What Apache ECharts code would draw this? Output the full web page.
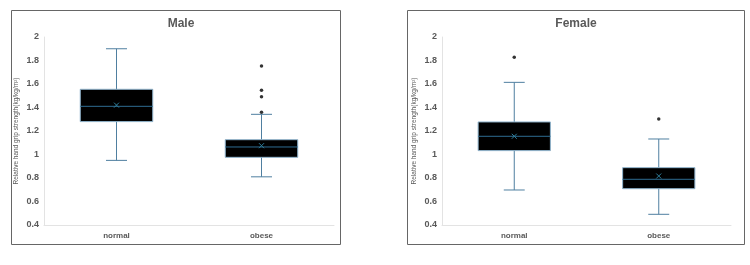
<!DOCTYPE html>
<html>
<head>
<meta charset="utf-8">
<script src="https://cdn.jsdelivr.net/npm/echarts@6/dist/echarts.min.js"></script>
<style>
  html, body { margin: 0; padding: 0; background: #fff; }
  #main { width: 750px; height: 265px; }
</style>
</head>
<body>
<div id="main"></div>
<script>
// categories and tick labels
const categories = ["normal", "obese"];
const yTicks = [0.4, 0.6, 0.8, 1, 1.2, 1.4, 1.6, 1.8, 2];

// box stats: [min, Q1, median, Q3, max, mean]
const maleNormal = [0.95, 1.28, 1.41, 1.555, 1.9, 1.42];
const maleObese = [0.81, 0.976, 1.064, 1.126, 1.342, 1.075];
const femaleNormal = [0.698, 1.033, 1.155, 1.277, 1.614, 1.155];
const femaleObese = [0.491, 0.709, 0.789, 0.888, 1.132, 0.817];

// outliers [categoryIndex, value]
const maleOutliers = [[1, 1.753], [1, 1.546], [1, 1.492], [1, 1.359]];
const femaleOutliers = [[0, 1.827], [1, 1.302]];

const textColor = "#595959";
const whiskerColor = "#4f7fa0";

function boxData(a, b) {
  return [[0].concat(a), [1].concat(b)];
}

function renderBox(params, api) {
  const x = api.value(0);
  const pMin = api.coord([x, api.value(1)]);
  const pQ1 = api.coord([x, api.value(2)]);
  const pMed = api.coord([x, api.value(3)]);
  const pQ3 = api.coord([x, api.value(4)]);
  const pMax = api.coord([x, api.value(5)]);
  const pMean = api.coord([x, api.value(6)]);
  const band = api.size([1, 0])[0];
  const bw = band * 0.5;
  const cw = band * 0.145;
  const cx = pMed[0];
  const lineStyle = { stroke: whiskerColor, lineWidth: 1 };
  const s = 2.5;
  return {
    type: "group",
    children: [
      { type: "line", shape: { x1: cx, y1: pMax[1], x2: cx, y2: pMin[1] }, style: lineStyle },
      { type: "line", shape: { x1: cx - cw / 2, y1: pMax[1], x2: cx + cw / 2, y2: pMax[1] }, style: lineStyle },
      { type: "line", shape: { x1: cx - cw / 2, y1: pMin[1], x2: cx + cw / 2, y2: pMin[1] }, style: lineStyle },
      { type: "rect", shape: { x: cx - bw / 2, y: pQ3[1], width: bw, height: pQ1[1] - pQ3[1] },
        style: { fill: "#000", stroke: "#8fb3cc", lineWidth: 1 } },
      { type: "line", shape: { x1: cx - bw / 2, y1: pMed[1], x2: cx + bw / 2, y2: pMed[1] },
        style: { stroke: "#2f6d92", lineWidth: 1 } },
      { type: "line", shape: { x1: cx - s, y1: pMean[1] - s, x2: cx + s, y2: pMean[1] + s },
        style: { stroke: "#2f7f9c", lineWidth: 1 } },
      { type: "line", shape: { x1: cx - s, y1: pMean[1] + s, x2: cx + s, y2: pMean[1] - s },
        style: { stroke: "#2f7f9c", lineWidth: 1 } }
    ]
  };
}

function yAxisCfg(gridIndex) {
  return {
    type: "value",
    gridIndex: gridIndex,
    min: 0.4,
    max: 2,
    interval: 0.2,
    name: "Relative hand grip strength(kg/kg/m\u00b2)",
    nameLocation: "middle",
    nameGap: 24,
    nameTextStyle: { fontSize: 6.5, color: textColor, fontFamily: "Liberation Sans" },
    axisLine: { show: true, lineStyle: { color: "#e3e3e3" } },
    axisTick: { show: false },
    splitLine: { show: false },
    axisLabel: { color: textColor, fontSize: 9, fontWeight: "bold", margin: 5, fontFamily: "Liberation Sans" }
  };
}

function xAxisCfg(gridIndex) {
  return {
    type: "category",
    gridIndex: gridIndex,
    data: categories,
    axisLine: { lineStyle: { color: "#e3e3e3" } },
    axisTick: { show: false },
    axisLabel: { color: textColor, fontSize: 8, fontWeight: "bold", margin: 7, fontFamily: "Liberation Sans" }
  };
}

const chart = echarts.init(document.getElementById("main"));
chart.setOption({
  animation: false,
  backgroundColor: "#fff",
  title: [
    { text: "Male", left: 176, top: 13, textAlign: "center",
      textStyle: { fontSize: 12, fontWeight: "bold", color: textColor, fontFamily: "Liberation Sans" } },
    { text: "Female", left: 571, top: 13, textAlign: "center",
      textStyle: { fontSize: 12, fontWeight: "bold", color: textColor, fontFamily: "Liberation Sans" } }
  ],
  graphic: [
    { type: "rect", shape: { x: 11.5, y: 10.5, width: 329, height: 234 },
      style: { fill: "none", stroke: "#666", lineWidth: 1 }, z: -1 },
    { type: "rect", shape: { x: 407.5, y: 10.5, width: 337, height: 234 },
      style: { fill: "none", stroke: "#666", lineWidth: 1 }, z: -1 }
  ],
  grid: [
    { left: 44, right: 416, top: 37, bottom: 40 },
    { left: 442, right: 19, top: 37, bottom: 40 }
  ],
  xAxis: [xAxisCfg(0), xAxisCfg(1)],
  yAxis: [yAxisCfg(0), yAxisCfg(1)],
  series: [
    { type: "custom", xAxisIndex: 0, yAxisIndex: 0, renderItem: renderBox,
      encode: { x: 0, y: [1, 2, 3, 4, 5, 6] }, data: boxData(maleNormal, maleObese) },
    { type: "custom", xAxisIndex: 1, yAxisIndex: 1, renderItem: renderBox,
      encode: { x: 0, y: [1, 2, 3, 4, 5, 6] }, data: boxData(femaleNormal, femaleObese) },
    { type: "scatter", xAxisIndex: 0, yAxisIndex: 0, symbolSize: 3.5,
      itemStyle: { color: "#000" }, data: maleOutliers },
    { type: "scatter", xAxisIndex: 1, yAxisIndex: 1, symbolSize: 3.5,
      itemStyle: { color: "#000" }, data: femaleOutliers }
  ]
});
</script>
</body>
</html>
